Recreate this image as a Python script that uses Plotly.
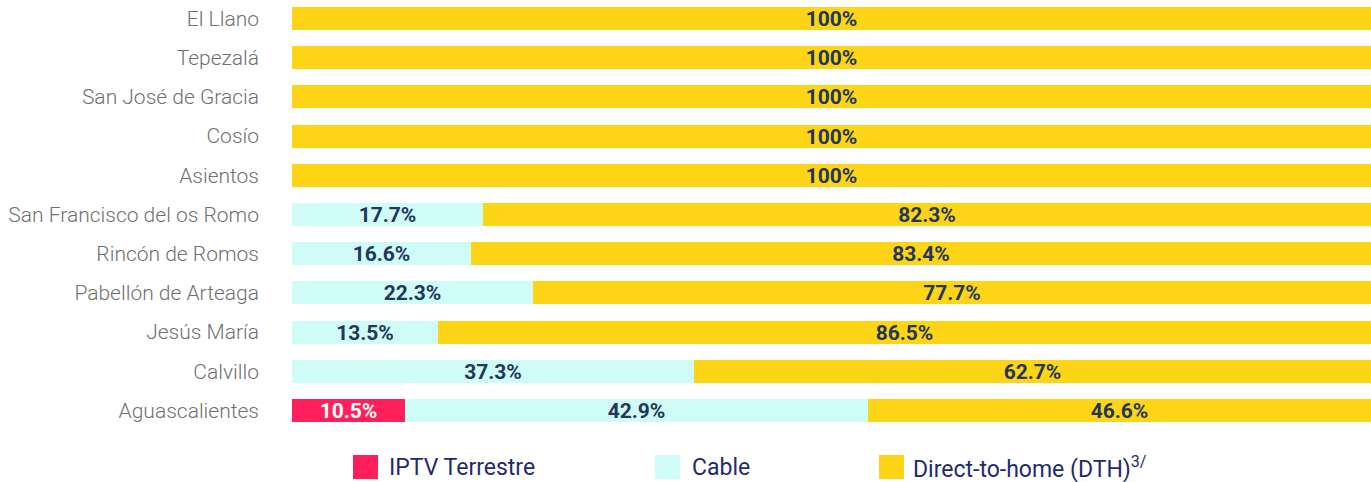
import plotly.graph_objects as go

# Data (top to bottom)
categories = ["El Llano", "Tepezalá", "San José de Gracia", "Cosío", "Asientos",
              "San Francisco del os Romo", "Rincón de Romos", "Pabellón de Arteaga",
              "Jesús María", "Calvillo", "Aguascalientes"]
iptv = [0, 0, 0, 0, 0, 0, 0, 0, 0, 0, 10.5]
cable = [0, 0, 0, 0, 0, 17.7, 16.6, 22.3, 13.5, 37.3, 42.9]
dth = [100, 100, 100, 100, 100, 82.3, 83.4, 77.7, 86.5, 62.7, 46.6]
series_names = ["IPTV Terrestre", "Cable", "Direct-to-home (DTH)<sup>3/</sup>"]

colors = ["#FF1F5A", "#D0FCF7", "#FDD516"]
text_colors = ["#FFFFFF", "#22375A", "#22375A"]
FONT = "Roboto"

W, H = 1371, 482
ML, MR, MT, MB = 292, 0, 0, 52

def labels(vals):
    return [f"{v:g}%" if v > 0 else "" for v in vals]

fig = go.Figure()
for name, vals, col, tcol in zip(series_names, [iptv, cable, dth], colors, text_colors):
    fig.add_trace(go.Bar(
        y=categories, x=vals, orientation="h", name=name,
        marker=dict(color=col, line=dict(width=0)),
        text=labels(vals), textposition="inside", insidetextanchor="middle",
        textangle=0, constraintext="none",
        insidetextfont=dict(family=FONT, size=21, color=tcol, weight="bold"),
        width=0.59, showlegend=False, hoverinfo="skip",
    ))

# custom legend (squares + labels) below plot
plot_w = W - ML - MR
plot_h = H - MT - MB
def px_x(px):
    return (px - ML) / plot_w
def px_y(py):
    return (H - MB - py) / plot_h

legend_items = [(353, 387), (655, 690), (879, 911)]
for (sx, tx), col, name in zip(legend_items, colors, series_names):
    fig.add_shape(type="rect", xref="paper", yref="paper",
                  x0=px_x(sx), x1=px_x(sx + 25), y0=px_y(479), y1=px_y(455),
                  fillcolor=col, line=dict(width=0))
    fig.add_annotation(xref="paper", yref="paper", x=px_x(tx), y=px_y(467),
                       text=name, showarrow=False, xanchor="left", yanchor="middle",
                       font=dict(family=FONT, size=23, color="#1F2A6E"))

fig.update_layout(
    width=W, height=H, barmode="stack",
    margin=dict(l=ML, r=MR, t=MT, b=MB, autoexpand=False),
    paper_bgcolor="white", plot_bgcolor="white",
    bargap=0,
    xaxis=dict(range=[0, 100], visible=False, fixedrange=True),
    yaxis=dict(type="category", categoryarray=categories, range=[10.497, -0.472],
               showgrid=False, zeroline=False, showline=False, ticks="",
               ticklabelstandoff=32, automargin=False,
               tickfont=dict(family=FONT, size=21, color="#707070", weight=300)),
    uniformtext=dict(mode=False),
)

fig.write_html("out.html", config={"displayModeBar": False},
               post_script="document.body.style.margin='0';document.body.style.overflow='hidden';")
